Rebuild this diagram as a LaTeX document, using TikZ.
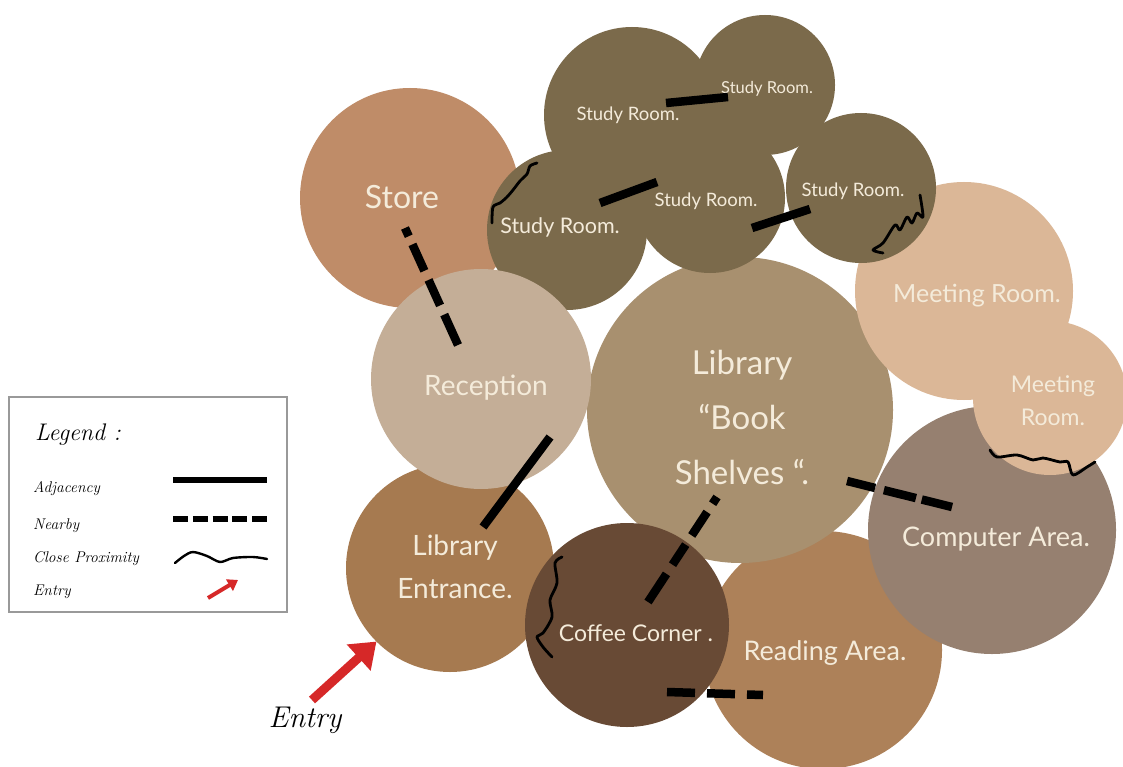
\documentclass[tikz,border=0pt]{standalone}
\usepackage{fontspec}
\newfontfamily\labelf{Lato}
\usetikzlibrary{arrows.meta}
\definecolor{cstore}{HTML}{BF8C68}
\definecolor{cstudy}{HTML}{7B6A4B}
\definecolor{cmeet}{HTML}{DBB797}
\definecolor{clib}{HTML}{A8906F}
\definecolor{crecep}{HTML}{C4AE97}
\definecolor{centr}{HTML}{A67A50}
\definecolor{ccoffee}{HTML}{684A35}
\definecolor{cread}{HTML}{AD8159}
\definecolor{ccomp}{HTML}{968070}
\definecolor{ctext}{HTML}{F4EBDA}
\definecolor{cred}{HTML}{D62828}
\tikzset{
  room/.style={circle, inner sep=0pt, outer sep=0pt, draw=none},
  lbl/.style={text=ctext, inner sep=0pt, align=center},
  adj/.style={line width=8.5pt, black},
  near/.style={line width=8.5pt, black},
  wig/.style={line width=2.8pt, black, line cap=round, line join=round},
  entryarrow/.style={line width=9pt, cred, -{Triangle[length=24pt,width=34pt]}},
  legtext/.style={inner sep=0pt, anchor=base west, font=\itshape\fontsize{15.5}{17}\selectfont}
}
\begin{document}
\begin{tikzpicture}[x=1pt,y=-1pt]
\useasboundingbox (0,0) rectangle (1123,767);
\fill[white] (0,0) rectangle (1123,767);
% rooms (drawing order matters)
\node[room, fill=cstore, minimum size=220pt] (store) at (410,198) {};
\node[room, fill=centr, minimum size=208pt] (entrance) at (450,568) {};
\node[room, fill=cread, minimum size=238pt] (reading) at (823,650) {};
\node[room, fill=clib, minimum size=306pt] (library) at (740,410) {};
\node[room, fill=ccomp, minimum size=248pt] (computer) at (992,530) {};
\node[room, fill=cmeet, minimum size=218pt] (meet1) at (964,291) {};
\node[room, fill=cmeet, minimum size=154pt] (meet2) at (1050,398) {};
\node[room, fill=cstudy, minimum size=176pt] (study1) at (632,115) {};
\node[room, fill=cstudy, minimum size=140pt] (study2) at (765,85) {};
\node[room, fill=cstudy, minimum size=160pt] (study3) at (567,230) {};
\node[room, fill=cstudy, minimum size=150pt] (study4) at (710,198) {};
\node[room, fill=cstudy, minimum size=150pt] (study5) at (861,188) {};
\node[room, fill=crecep, minimum size=220pt] (reception) at (481,379) {};
\node[room, fill=ccoffee, minimum size=204pt] (coffee) at (627,625) {};
% labels
\node[lbl, font=\labelf\fontsize{32}{36}\selectfont] (storeT) at (402,197) {Store};
\node[lbl, font=\labelf\fontsize{28}{32}\selectfont] (recepT) at (486,388) {Reception};
\node[lbl, font=\labelf\fontsize{33}{55}\selectfont] (libT) at (742,417) {Library\\“Book\\Shelves “.};
\node[lbl, font=\labelf\fontsize{28}{43}\selectfont] (entrT) at (455,567) {Library\\Entrance.};
\node[lbl, font=\labelf\fontsize{23}{26}\selectfont] (coffeeT) at (636,633) {Coffee Corner .};
\node[lbl, font=\labelf\fontsize{27}{30}\selectfont] (readT) at (825,653) {Reading Area.};
\node[lbl, font=\labelf\fontsize{27}{30}\selectfont] (compT) at (996,539) {Computer Area.};
\node[lbl, font=\labelf\fontsize{25}{28}\selectfont] (meet1T) at (977,296) {Meeting Room.};
\node[lbl, font=\labelf\fontsize{23}{33}\selectfont] (meet2T) at (1053,401) {Meeting\\Room.};
\node[lbl, font=\labelf\fontsize{18.5}{21}\selectfont] (study1T) at (628,115) {Study Room.};
\node[lbl, font=\labelf\fontsize{16.5}{19}\selectfont] (study2T) at (767,89) {Study Room.};
\node[lbl, font=\labelf\fontsize{21.5}{24}\selectfont] (study3T) at (560,227) {Study Room.};
\node[lbl, font=\labelf\fontsize{18.5}{21}\selectfont] (study4T) at (706,201) {Study Room.};
\node[lbl, font=\labelf\fontsize{18.5}{21}\selectfont] (study5T) at (853,191) {Study Room.};
% connector end points
\coordinate (s12a) at (666,103); \coordinate (s12b) at (728,97);
\coordinate (s34a) at (600,203); \coordinate (s34b) at (657,182);
\coordinate (s45a) at (752,228); \coordinate (s45b) at (810,209);
\coordinate (reA) at (550,437); \coordinate (reB) at (483,527);
\coordinate (srA) at (405,228); \coordinate (srB) at (458,345);
\coordinate (lcA) at (717,497); \coordinate (lcB) at (648,602);
\coordinate (lpA) at (847,481); \coordinate (lpB) at (952,507);
\coordinate (crA) at (667,692); \coordinate (crB) at (763,695);
% adjacency
\draw[adj] (s12a) -- (s12b);
\draw[adj] (s34a) -- (s34b);
\draw[adj] (s45a) -- (s45b);
\draw[adj] (reA) -- (reB);
% nearby
\draw[near, dash pattern=on 9pt off 9pt on 29pt off 10pt on 28pt off 10pt on 40pt] (srA) -- (srB);
\draw[near, dash pattern=on 8pt off 10pt on 28pt off 11pt on 24pt off 11pt on 40pt] (lcA) -- (lcB);
\draw[near, dash pattern=on 29pt off 9pt on 33pt off 6pt on 40pt] (lpA) -- (lpB);
\draw[near, dash pattern=on 28pt off 12pt on 28pt off 12pt on 30pt] (crA) -- (crB);
% close proximity wiggles
\draw[wig] plot[smooth] coordinates {(537,163) (530,166) (527,174) (520,181) (513,190) (507,197) (500,203) (493,207) (492,223)};
\draw[wig] plot[smooth] coordinates {(920,195) (923,217) (917,213) (912,223) (907,217) (900,230) (895,225) (883,243) (873,250) (883,253)};
\draw[wig] plot[smooth] coordinates {(990,450) (997,457) (1017,455) (1033,460) (1043,458) (1060,462) (1068,462) (1073,475) (1087,467) (1095,462)};
\draw[wig] plot[smooth] coordinates {(562,557) (555,563) (557,583) (550,600) (552,617) (543,633) (537,637) (543,647) (552,657)};
% entry arrow
\coordinate (entryTail) at (312,700);
\node[inner sep=0pt, font=\itshape\fontsize{30}{32}\selectfont] (entryT) at (305,720) {Entry};
\draw[entryarrow] (entryTail) -- (entrance.225);
% legend
\node[draw=gray!80, line width=1.5pt, minimum width=278pt, minimum height=215pt, inner sep=0pt] (legend) at (148,504.5) {};
\node[inner sep=0pt, anchor=base west, font=\itshape\fontsize{24}{26}\selectfont] (legT) at (35,440) {Legend :};
\node[legtext] (lAdj) at (33,492) {Adjacency};
\node[legtext] (lNear) at (33,529) {Nearby};
\node[legtext] (lClose) at (33,562) {Close Proximity};
\node[legtext] (lEntry) at (33,595) {Entry};
\coordinate (la1) at (173,480); \coordinate (la2) at (267,480);
\coordinate (ln1) at (173,519); \coordinate (ln2) at (267,519);
\coordinate (le1) at (208,598); \coordinate (le2) at (238,580);
\draw[line width=6pt] (la1) -- (la2);
\draw[line width=5.5pt, dash pattern=on 15pt off 4.75pt] (ln1) -- (ln2);
\draw[wig, line width=2.4pt] plot[smooth] coordinates {(175,563) (184,556) (193,552) (207,556) (220,562) (233,558) (253,557) (267,559)};
\draw[line width=4pt, cred, -{Triangle[length=10pt,width=13pt]}] (le1) -- (le2);
\end{tikzpicture}
\end{document}
